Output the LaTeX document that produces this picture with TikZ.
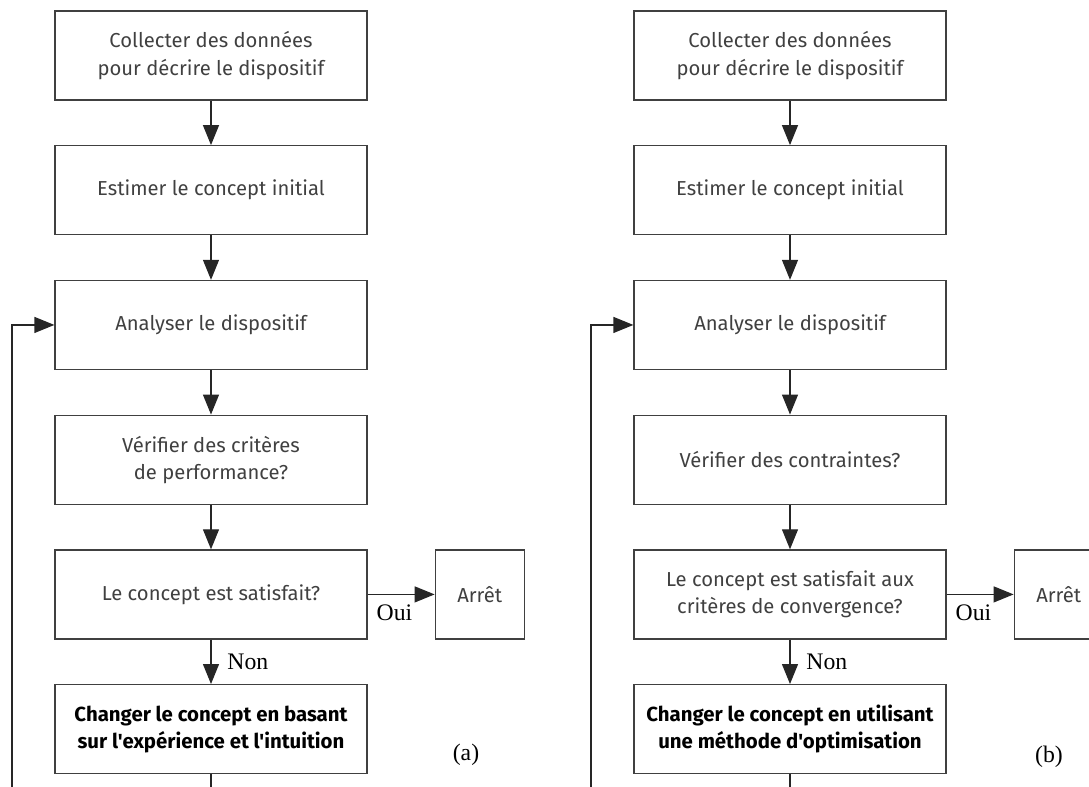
\documentclass[tikz,border=0pt]{standalone}
\usepackage{fontspec}
\setmainfont{Liberation Serif}
\newfontfamily\handfont{Fira Sans}
\usetikzlibrary{arrows.meta,positioning}
\tikzset{
  stepbox/.style={draw=black!75,rectangle,minimum width=6.24cm,minimum height=1.78cm,line width=0.7pt,align=center,inner sep=0pt,text=black!75,font=\handfont\fontsize{11.5}{15.5}\selectfont},
  boldbox/.style={stepbox,text=black,font=\handfont\bfseries\fontsize{11.6}{15.5}\selectfont},
  stopbox/.style={stepbox,minimum width=1.78cm},
  wire/.style={line width=0.7pt,draw=black!85},
  arr/.style={wire,-{Triangle[length=0.4cm,width=0.32cm]}},
  lbl/.style={font=\fontsize{13.5}{15}\selectfont}
}

\begin{document}
\begin{tikzpicture}[node distance=0.89cm and 1.34cm]
  \clip (0,0) rectangle (21.78,-15.74);

  % Flowchart (a)
  \node[stepbox] (a1) at (4.22,-1.11) {Collecter des données\\pour décrire le dispositif};
  \node[stepbox, below=of a1] (a2) {Estimer le concept initial};
  \node[stepbox, below=of a2] (a3) {Analyser le dispositif};
  \node[stepbox, below=of a3] (a4) {Vérifier des critères\\de performance?};
  \node[stepbox, below=of a4] (a5) {Le concept est satisfait?};
  \node[boldbox, below=of a5] (a6) {Changer le concept en basant\\sur l'expérience et l'intuition};
  \node[stopbox, right=of a5] (a7) {Arrêt};
  \node[lbl] (acap) at (9.32,-15.1) {(a)};
  \coordinate (aend) at (4.22,-15.74);
  \coordinate (aback) at (0.24,-15.74);

  % Connections (a)
  \foreach \s/\t in {a1/a2,a2/a3,a3/a4,a4/a5}
    \draw[arr] (\s) -- (\t);
  \draw[arr] (a5) -- node[lbl, right=0.2cm] {Non} (a6);
  \draw[arr] (a5) -- node[lbl, below=2pt, pos=0.4] {Oui} (a7);
  \draw[wire] (a6) -- (aend);
  \draw[arr] (aback) |- (a3);

  % Flowchart (b)
  \node[stepbox] (b1) at (15.8,-1.11) {Collecter des données\\pour décrire le dispositif};
  \node[stepbox, below=of b1] (b2) {Estimer le concept initial};
  \node[stepbox, below=of b2] (b3) {Analyser le dispositif};
  \node[stepbox, below=of b3] (b4) {Vérifier des contraintes?};
  \node[stepbox, below=of b4] (b5) {Le concept est satisfait aux\\critères de convergence?};
  \node[boldbox, below=of b5] (b6) {Changer le concept en utilisant\\une méthode d'optimisation};
  \node[stopbox, right=of b5] (b7) {Arrêt};
  \node[lbl] (bcap) at (20.98,-15.14) {(b)};
  \coordinate (bend) at (15.8,-15.74);
  \coordinate (bback) at (11.82,-15.74);

  % Connections (b)
  \foreach \s/\t in {b1/b2,b2/b3,b3/b4,b4/b5}
    \draw[arr] (\s) -- (\t);
  \draw[arr] (b5) -- node[lbl, right=0.2cm] {Non} (b6);
  \draw[arr] (b5) -- node[lbl, below=2pt, pos=0.4] {Oui} (b7);
  \draw[wire] (b6) -- (bend);
  \draw[arr] (bback) |- (b3);
\end{tikzpicture}
\end{document}
